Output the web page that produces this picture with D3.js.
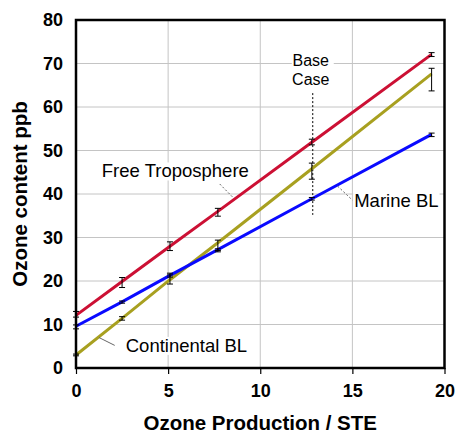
<!DOCTYPE html>
<html>
<head>
<meta charset="utf-8">
<script src="https://cdn.jsdelivr.net/npm/d3@7"></script>
<style>
  body { margin: 0; background: #fff; }
  text { font-family: 'Liberation Sans', Arial, sans-serif; }
</style>
</head>
<body>
<div id="chart"></div>
<script>
// STE / ozone production multipliers (x)
const xValues = [0, 2.5, 5.1, 7.7, 12.8, 19.3]

// ozone content ppb for each boundary layer
const freeTrop = [12.1, 19.9, 28.0, 36.0, 51.9, 72.1]
const freeTropLow = [11.7, 18.5, 27.0, 34.9, 51.3, 71.6]
const freeTropHigh = [13.0, 20.8, 29.0, 36.7, 52.6, 72.5]

const marine = [9.6, 15.2, 21.3, 27.2, 38.9, 53.7]
const marineLow = [9.0, 14.9, 20.9, 26.7, 38.6, 53.2]
const marineHigh = [9.9, 15.4, 21.8, 27.4, 39.2, 54.0]

const continental = [3.0, 11.4, 20.3, 28.8, 45.8, 67.6]
const continentalLow = [2.8, 11.0, 19.3, 27.0, 43.4, 63.7]
const continentalHigh = [3.2, 11.8, 21.4, 29.4, 47.1, 68.9]

const xTicks = [0, 5, 10, 15, 20]
const yTicks = [0, 10, 20, 30, 40, 50, 60, 70, 80]
const baseCase = 12.85

const width = 457
const height = 435
const margin = { top: 20, left: 76, right: 12, bottom: 67 }

const svg = d3
  .select('#chart')
  .append('svg')
  .attr('width', width)
  .attr('height', height)

const x = d3.scaleLinear().domain([0, 20]).range([margin.left, width - margin.right - 0.5])
const y = d3.scaleLinear().domain([0, 80]).range([height - margin.bottom, margin.top])

// grid
svg.append('g')
  .selectAll('line')
  .data(yTicks.slice(1, -1))
  .enter()
  .append('line')
  .attr('x1', x(0)).attr('x2', x(20))
  .attr('y1', d => y(d)).attr('y2', d => y(d))
  .attr('stroke', '#c4c4c4')
  .attr('stroke-width', 1)

svg.append('g')
  .selectAll('line')
  .data(xTicks.slice(1, -1))
  .enter()
  .append('line')
  .attr('x1', d => x(d)).attr('x2', d => x(d))
  .attr('y1', y(0)).attr('y2', y(80))
  .attr('stroke', '#c4c4c4')
  .attr('stroke-width', 1)

// x axis ticks + labels
const xAxis = d3.axisBottom(x).tickValues(xTicks).tickSize(6).tickPadding(10)
svg.append('g')
  .attr('transform', 'translate(0,' + y(0) + ')')
  .call(xAxis)
  .call(g => g.select('.domain').remove())
  .call(g => g.selectAll('line').attr('stroke', '#000').attr('stroke-width', 1.2))
  .call(g => g.selectAll('text')
    .attr('font-size', 18)
    .attr('font-weight', 700)
    .attr('fill', '#000')
    .style('font-family', "'Liberation Sans', Arial, sans-serif"))

const yAxis = d3.axisLeft(y).tickValues(yTicks).tickSize(0).tickPadding(13)
svg.append('g')
  .attr('transform', 'translate(' + x(0) + ',0)')
  .call(yAxis)
  .call(g => g.select('.domain').remove())
  .call(g => g.selectAll('text')
    .attr('font-size', 18)
    .attr('font-weight', 700)
    .attr('fill', '#000')
    .style('font-family', "'Liberation Sans', Arial, sans-serif"))

// axis titles
svg.append('text')
  .attr('x', (x(0) + x(20)) / 2)
  .attr('y', 430)
  .attr('text-anchor', 'middle')
  .attr('font-size', 20.5)
  .attr('font-weight', 700)
  .text('Ozone Production / STE')

svg.append('text')
  .attr('transform', 'translate(27,' + (y(0) + y(80)) / 2 + ') rotate(-90)')
  .attr('text-anchor', 'middle')
  .attr('font-size', 20.5)
  .attr('font-weight', 700)
  .text('Ozone content ppb')

// base case marker
svg.append('line')
  .attr('x1', x(baseCase)).attr('x2', x(baseCase))
  .attr('y1', y(63.2)).attr('y2', y(35.2))
  .attr('stroke', '#000')
  .attr('stroke-width', 1)
  .attr('stroke-dasharray', '2,2')

const baseLabel = svg.append('g')
baseLabel.append('rect')
  .attr('x', x(baseCase) - 21).attr('y', 47)
  .attr('width', 42).attr('height', 40)
  .attr('fill', '#fff')
baseLabel.append('text')
  .attr('x', x(baseCase) - 2).attr('y', 66)
  .attr('text-anchor', 'middle')
  .attr('font-size', 16)
  .text('Base')
baseLabel.append('text')
  .attr('x', x(baseCase) - 2).attr('y', 85)
  .attr('text-anchor', 'middle')
  .attr('font-size', 16)
  .text('Case')

// series
const series = [
  { name: 'Continental BL', values: continental, low: continentalLow, high: continentalHigh, color: '#a8a020' },
  { name: 'Marine BL', values: marine, low: marineLow, high: marineHigh, color: '#0a0aff' },
  { name: 'Free Troposphere', values: freeTrop, low: freeTropLow, high: freeTropHigh, color: '#cc1034' }
]

const line = d3.line()
  .x((d, i) => x(xValues[i]))
  .y(d => y(d))

series.forEach(s => {
  svg.append('path')
    .datum(s.values)
    .attr('d', line)
    .attr('fill', 'none')
    .attr('stroke', s.color)
    .attr('stroke-width', 3)
})

series.forEach(s => {
  const g = svg.append('g').attr('stroke', '#000').attr('stroke-width', 1)
  xValues.forEach((xv, i) => {
    const cx = x(xv)
    g.append('line')
      .attr('x1', cx).attr('x2', cx)
      .attr('y1', y(s.low[i])).attr('y2', y(s.high[i]))
    g.append('line')
      .attr('x1', cx - 3).attr('x2', cx + 3)
      .attr('y1', y(s.low[i])).attr('y2', y(s.low[i]))
    g.append('line')
      .attr('x1', cx - 3).attr('x2', cx + 3)
      .attr('y1', y(s.high[i])).attr('y2', y(s.high[i]))
  })
})

// labels with leaders (positions in data units)
const labels = [
  { text: 'Free Troposphere', tx: 1.4, ty: 43.8, from: [7.8, 42.3], to: [8.5, 39.3], dash: '2,2' },
  { text: 'Marine BL', tx: 15.1, ty: 37.0, from: [14.2, 41.8], to: [15.0, 38.6], dash: '2,2' },
  { text: 'Continental BL', tx: 2.7, ty: 3.7, from: [1.25, 7.0], to: [2.1, 5.2], dash: null }
]

labels.forEach(l => {
  svg.append('line')
    .attr('x1', x(l.from[0])).attr('y1', y(l.from[1]))
    .attr('x2', x(l.to[0])).attr('y2', y(l.to[1]))
    .attr('stroke', '#666')
    .attr('stroke-width', 1)
    .attr('stroke-dasharray', l.dash)
  const t = svg.append('text')
    .attr('x', x(l.tx))
    .attr('y', y(l.ty))
    .attr('font-size', 18.5)
    .attr('fill', '#000')
    .text(l.text)
  const bb = t.node().getBBox()
  svg.insert('rect', () => t.node())
    .attr('x', bb.x - 1).attr('y', bb.y + 2)
    .attr('width', bb.width + 2).attr('height', bb.height - 3)
    .attr('fill', '#fff')
})

// frame
svg.append('rect')
  .attr('x', x(0)).attr('y', y(80))
  .attr('width', x(20) - x(0)).attr('height', y(0) - y(80))
  .attr('fill', 'none')
  .attr('stroke', '#000')
  .attr('stroke-width', 2.5)
</script>
</body>
</html>
